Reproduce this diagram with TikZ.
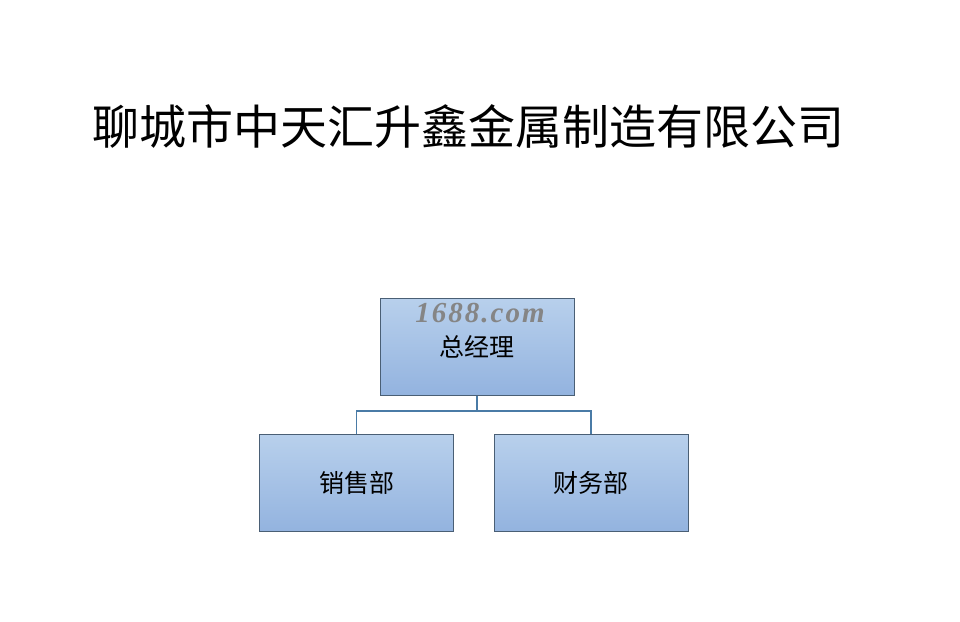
\documentclass[tikz,border=0pt]{standalone}
\usepackage{fontspec}
\newfontfamily\cjk{Noto Sans CJK SC}
\newfontfamily\wm{Liberation Serif}
\usetikzlibrary{positioning}
\definecolor{boxtop}{HTML}{B8D0EC}
\definecolor{boxbot}{HTML}{93B3DF}
\definecolor{boxline}{HTML}{4A5F75}
\definecolor{conn}{HTML}{4A7BA6}
\definecolor{wmgray}{HTML}{858585}
\tikzset{
  orgbox/.style={draw=boxline, line width=1pt, top color=boxtop, bottom color=boxbot,
     minimum width=194pt, minimum height=97pt, inner sep=0pt, font=\cjk\fontsize{25}{30}\selectfont},
  link/.style={draw=conn, line width=1.6pt}
}
\newcommand{\wk}{\kern2pt}
\begin{document}
\begin{tikzpicture}[x=1pt,y=-1pt]
\useasboundingbox[fill=white] (0,0) rectangle (960,621);
\node[anchor=west, inner sep=0pt, font=\cjk\fontsize{47}{52}\selectfont] (title) at (92,126) {聊城市中天汇升鑫金属制造有限公司};
\node[orgbox] (gm) at (477,346.5) {总经理};
\node[orgbox] (sales) at (356.5,483) {销售部};
\node[orgbox] (fin) at (591,483) {财务部};
\node[font=\wm\bfseries\itshape\fontsize{29}{32}\selectfont, text=wmgray, inner sep=0pt] (wmark) at (480,313) {1\wk6\wk8\wk8\wk.\wk c\wk o\wk m};
\coordinate (mid) at (477,411);
\draw[link] (gm.south) -- (mid);
\draw[link] (sales.north) |- (mid) -| (fin.north);
\end{tikzpicture}
\end{document}
